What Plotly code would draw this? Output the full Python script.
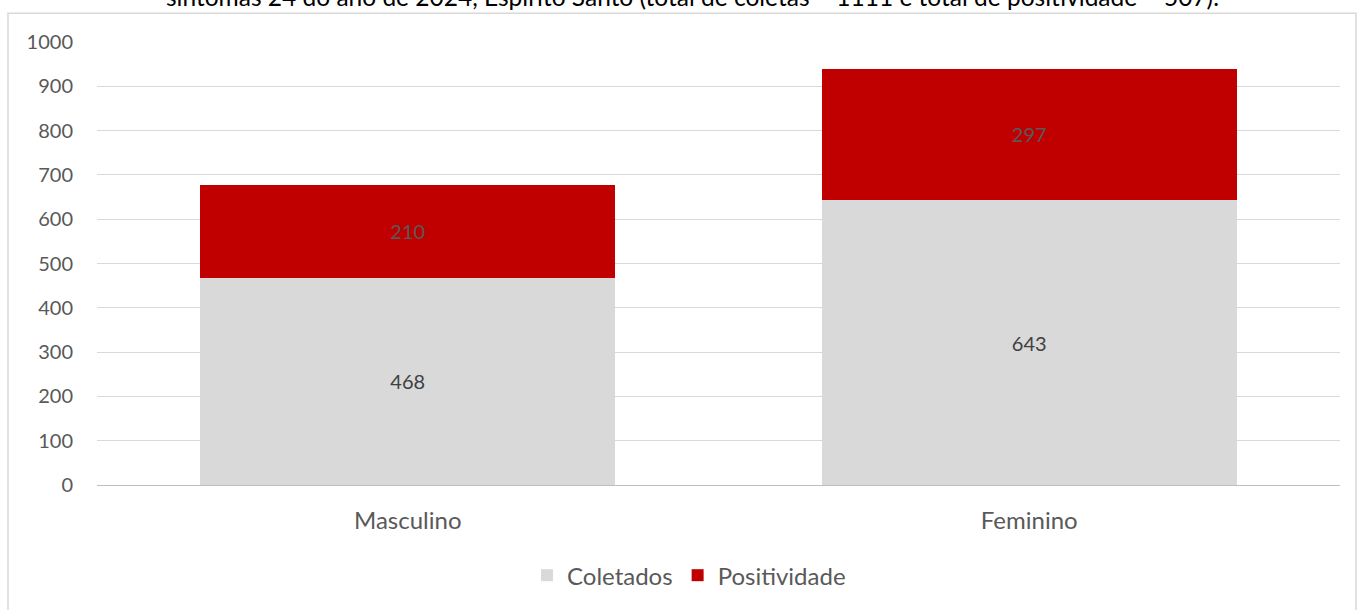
import plotly.graph_objects as go

categories = ["Masculino", "Feminino"]
coletados = [468, 643]
positividade = [210, 297]
title_text = ("sintomas 24 do ano de 2024, Espírito Santo (total de coletas = 1111 e "
              "total de positividade = 507).")

FONT = "Lato"
W, H = 1357, 610
ML, MR, MT, MB = 97, 17, 42, 123
pw, ph = W - ML - MR, H - MT - MB

def px_x(x):
    return (x - ML) / pw

def px_y(y):
    return (H - MB - y) / ph

fig = go.Figure()
fig.add_trace(go.Bar(
    x=categories, y=coletados, name="Coletados",
    marker=dict(color="#d9d9d9", line=dict(width=0)),
    text=[str(v) for v in coletados], textposition="inside",
    insidetextanchor="middle",
    textfont=dict(family=FONT, size=20, color="#404040"),
))
fig.add_trace(go.Bar(
    x=categories, y=positividade, name="Positividade",
    marker=dict(color="#c00000", line=dict(width=0)),
    text=[str(v) for v in positividade], textposition="inside",
    insidetextanchor="middle",
    textfont=dict(family=FONT, size=20, color="#595959"),
))

fig.update_layout(
    width=W, height=H,
    barmode="stack", bargap=0.332,
    plot_bgcolor="white", paper_bgcolor="white",
    margin=dict(l=ML, r=MR, t=MT, b=MB),
    font=dict(family=FONT, size=20, color="#595959"),
    uniformtext=dict(mode=False),
    xaxis=dict(
        showgrid=False, showline=True, linecolor="#bfbfbf", linewidth=1,
        ticks="", tickfont=dict(family=FONT, size=24, color="#595959"),
        ticklabelstandoff=14,
    ),
    yaxis=dict(
        range=[0, 1000], dtick=100, showgrid=True, gridcolor="#d9d9d9",
        gridwidth=1, zeroline=False, showline=False, ticks="",
        tickfont=dict(family=FONT, size=20, color="#595959"),
        ticklabelstandoff=23,
    ),
    legend=dict(
        orientation="h", x=px_x(689), xanchor="center", y=px_y(578), yanchor="middle",
        font=dict(family=FONT, size=24, color="#595959"),
        itemwidth=30, traceorder="normal",
    ),
    showlegend=True,
)

fig.add_shape(
    type="rect", xref="paper", yref="paper",
    x0=px_x(8), x1=px_x(1356), y0=px_y(640), y1=px_y(13),
    line=dict(color="#d9d9d9", width=1.5), fillcolor="rgba(0,0,0,0)",
    layer="below",
)

fig.add_annotation(
    text=title_text, xref="paper", yref="paper",
    x=px_x(692), y=px_y(13), xanchor="center", yanchor="bottom",
    showarrow=False, font=dict(family=FONT, size=24.5, color="#000000"),
)

fig.write_html("out.html", config={"displayModeBar": False},
               post_script="document.body.style.margin='0';")
